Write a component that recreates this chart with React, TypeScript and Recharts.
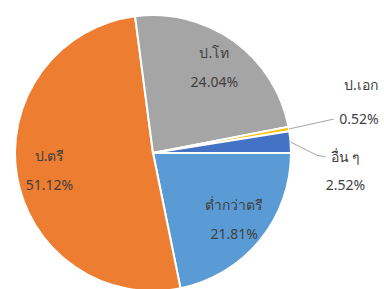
import { PieChart, Pie, Cell } from "recharts";

const names = ["ต่ำกว่าตรี", "ป.ตรี", "ป.โท", "ป.เอก", "อื่น ๆ"];
const shares = [21.81, 51.12, 24.04, 0.52, 2.52];
const colors = ["#5B9BD5", "#ED7D31", "#A5A5A5", "#FFC000", "#4472C4"];

const data = names.map((name, i) => ({ name, value: shares[i] }));

const RAD = Math.PI / 180;
const FONT = "'Noto Sans', 'DejaVu Sans', sans-serif";
const TEXT = "#3f3f3f";

// callouts for the two thin slices, offsets from the slice's outer edge
const callouts: Record<number, { line: number[][]; name: number[]; pct: number[] }> = {
  3: { line: [[0, 0], [45, -10]], name: [72, -45], pct: [70, -11] },
  4: { line: [[0, 0], [26, 13], [35, 15]], name: [55, 14], pct: [55, 42] },
};

const renderLabel = (props: any) => {
  const { cx, cy, midAngle, outerRadius, index, value, name } = props;
  const cos = Math.cos(-midAngle * RAD);
  const sin = Math.sin(-midAngle * RAD);
  const pct = `${Number(value).toFixed(2)}%`;
  const c = callouts[index];
  if (c) {
    const ex = cx + outerRadius * cos;
    const ey = cy + outerRadius * sin;
    const pts = c.line.map(([dx, dy]) => `${ex + dx},${ey + dy}`).join(" ");
    return (
      <g>
        <polyline points={pts} fill="none" stroke="#a6a6a6" strokeWidth={1} />
        <text x={ex + c.name[0]} y={ey + c.name[1]} fill={TEXT} fontSize={14} fontFamily={FONT} textAnchor="middle" dominantBaseline="central">
          {name}
        </text>
        <text x={ex + c.pct[0]} y={ey + c.pct[1]} fill={TEXT} fontSize={14} fontFamily={FONT} textAnchor="middle" dominantBaseline="central">
          {pct}
        </text>
      </g>
    );
  }
  const r = outerRadius * 0.76;
  const x = cx + r * cos;
  const y = cy + r * sin;
  return (
    <g>
      <text x={x} y={y - 15} fill={TEXT} fontSize={14} fontFamily={FONT} textAnchor="middle" dominantBaseline="central">
        {name}
      </text>
      <text x={x} y={y + 14} fill={TEXT} fontSize={14} fontFamily={FONT} textAnchor="middle" dominantBaseline="central">
        {pct}
      </text>
    </g>
  );
};

export default function App() {
  return (
    <div style={{ position: "absolute", left: 0, top: 0, width: 384, height: 289, background: "#fff" }}>
      <PieChart width={384} height={289} margin={{ top: 0, right: 0, bottom: 0, left: 0 }}>
        <Pie
          data={data}
          dataKey="value"
          nameKey="name"
          cx={153}
          cy={153}
          outerRadius={138}
          startAngle={0}
          endAngle={-360}
          stroke="#fff"
          strokeWidth={2}
          label={renderLabel}
          labelLine={false}
          isAnimationActive={false}
        >
          {data.map((d, i) => (
            <Cell key={d.name} fill={colors[i]} />
          ))}
        </Pie>
      </PieChart>
    </div>
  );
}
